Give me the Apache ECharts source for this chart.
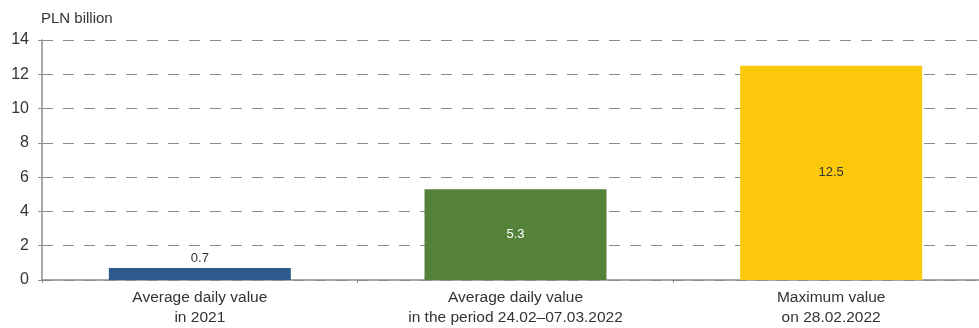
<!DOCTYPE html>
<html>
<head>
<meta charset="utf-8">
<script src="https://cdn.jsdelivr.net/npm/echarts@6/dist/echarts.min.js"></script>
<style>
  html, body { margin: 0; padding: 0; background: #fff; overflow: hidden; }
  #wrap { width: 979px; height: 328px; overflow: hidden; position: relative; }
  /* the plot area runs a little past the right edge of the visible frame */
  #chart { position: absolute; left: 0; top: 0; width: 989px; height: 328px; }
</style>
</head>
<body>
<div id="wrap"><div id="chart"></div></div>
<script>
// Categories and values (PLN billion)
const categories = [
  'Average daily value\nin 2021',
  'Average daily value\nin the period 24.02\u201307.03.2022',
  'Maximum value\non 28.02.2022'
];
const values = [0.7, 5.3, 12.5];
const barColors = ['#2C5A8C', '#54823B', '#FCC80B'];
const labelColors = ['#333333', '#FFFFFF', '#333333'];
const labelPositions = ['top', 'inside', 'inside'];
const yTicks = [0, 2, 4, 6, 8, 10, 12, 14];

const FONT = '"Liberation Sans", Arial, sans-serif';
const chart = echarts.init(document.getElementById('chart'), null, { renderer: 'canvas' });

chart.setOption({
  animation: false,
  backgroundColor: '#ffffff',
  textStyle: { fontFamily: FONT },
  grid: { left: 42, right: 0, top: 40, bottom: 43, containLabel: false },
  graphic: [{
    type: 'text',
    left: 41,
    top: 11,
    style: { text: 'PLN billion', font: '15px ' + FONT, fill: '#333333' }
  }],
  xAxis: {
    type: 'category',
    data: categories,
    axisLine: { lineStyle: { color: '#8c8c8c', width: 1.5 } },
    axisTick: { show: true, length: 3, lineStyle: { color: '#8c8c8c' } },
    axisLabel: {
      color: '#333333', fontSize: 15.5, fontFamily: FONT,
      lineHeight: 20, margin: 8
    }
  },
  yAxis: {
    type: 'value',
    min: yTicks[0],
    max: yTicks[yTicks.length - 1],
    interval: 2,
    axisLine: { show: true, lineStyle: { color: '#8c8c8c', width: 1.5 } },
    axisTick: { show: true, length: 4, inside: false, lineStyle: { color: '#8c8c8c' } },
    axisLabel: { color: '#333333', fontSize: 16, fontFamily: FONT, margin: 13 },
    splitLine: {
      show: true,
      lineStyle: { color: '#8c8c8c', type: [11, 10], width: 1 }
    }
  },
  series: [{
    type: 'bar',
    barWidth: 182,
    data: values.map((v, i) => ({
      value: v,
      itemStyle: { color: barColors[i] },
      label: {
        show: true,
        position: labelPositions[i],
        color: labelColors[i],
        fontSize: 13,
        fontFamily: FONT,
        distance: 3
      }
    }))
  }]
});
</script>
</body>
</html>
